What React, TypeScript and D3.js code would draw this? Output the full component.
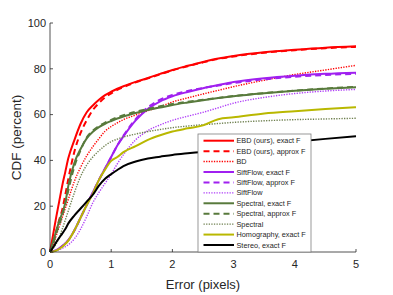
import React from "react";
import * as d3 from "d3";

const xs = [0, 0.05, 0.1, 0.15, 0.2, 0.25, 0.3, 0.4, 0.5, 0.6, 0.7, 0.8, 0.9, 1.0, 1.1, 1.2, 1.4, 1.6, 1.8, 2.0, 2.25, 2.5, 2.75, 3.0, 3.5, 4.0, 4.5, 5.0];

const ebdExact = [0, 7.5, 15, 22, 29, 35, 41, 49, 56, 61, 64, 66.5, 68.5, 70, 71.3, 72.4, 74.3, 76, 77.8, 79.5, 81.3, 83, 84.5, 85.6, 87.2, 88.3, 89.2, 89.8];
const ebdApprox = [0, 4, 9, 14, 18.5, 25, 32, 44, 52, 57.5, 62, 65, 67.5, 69.3, 70.8, 72, 74.1, 75.8, 77.6, 79.3, 81.1, 82.8, 84.3, 85.4, 87, 88.1, 89, 89.6];
const bd = [0, 3, 7, 11, 15, 19, 23, 31, 37, 42, 46, 49.5, 52.8, 54.8, 56.4, 57.8, 59.8, 61.7, 63.5, 65.5, 67.3, 69, 70.6, 72.2, 75, 77.5, 79.5, 81.5];
const siftExact = [0, 0.3, 0.8, 1.6, 2.6, 3.8, 5.2, 9.5, 15, 20.5, 26, 31.5, 36.5, 41.5, 46.5, 50.5, 57.5, 62.5, 65.8, 68, 69.9, 71.5, 72.9, 74.2, 75.9, 77, 77.8, 78.3];
const siftApprox = [0, 0.3, 0.8, 1.6, 2.6, 3.8, 5.2, 9.5, 15, 20.5, 26, 31.5, 36.5, 41.5, 46.5, 50.8, 58, 63.2, 66.5, 68.6, 70.3, 71.6, 72.7, 73.8, 75.4, 76.5, 77.3, 77.8];
const sift = [0, 0.2, 0.5, 1, 1.6, 2.3, 3.2, 5.8, 10, 15.5, 21.5, 26, 30, 34, 38.5, 42.5, 49, 53, 55.5, 57.5, 59.3, 61, 63, 65, 67.5, 69.2, 70.3, 71];
const specExact = [0, 4.5, 9, 13.5, 17, 21.5, 29, 39, 45, 49.6, 52.5, 54.5, 56, 57.2, 58.3, 59.2, 60.7, 62, 63.1, 64.2, 65.3, 66.3, 67.2, 68, 69.3, 70.4, 71.3, 72];
const specApprox = [0, 3.5, 8, 12, 16, 21, 27, 37.5, 44.5, 50, 53, 55, 56.5, 57.7, 58.8, 59.7, 61.2, 62.5, 63.6, 64.6, 65.6, 66.5, 67.3, 68.1, 69.4, 70.5, 71.4, 72.1];
const spec = [0, 1.5, 3.5, 6.5, 10, 14, 18, 26, 33, 38, 41.5, 44.2, 46.5, 48.2, 49.3, 50.2, 51.5, 52.6, 53.5, 54.3, 55, 55.6, 56.1, 56.6, 57.3, 57.8, 58.1, 58.4];
const homog = [0, 0.2, 0.6, 1.3, 2.3, 3.5, 5, 9.5, 15, 20.5, 25.5, 31.5, 36, 39.8, 41.5, 43.6, 46.2, 49, 51, 52.6, 54, 55.3, 58, 58.8, 60.5, 61.5, 62.4, 63.2];
const stereo = [0, 2, 4.2, 6.2, 8, 10, 12.5, 16, 19, 22, 25, 29, 32, 34, 35.8, 37.5, 39.5, 40.8, 41.6, 42.4, 43.1, 43.7, 44.4, 45.1, 46.6, 48.1, 49.4, 50.6];

const seriesNames = [
  "EBD (ours), exact F",
  "EBD (ours), approx F",
  "BD",
  "SiftFlow, exact F",
  "SiftFlow, approx F",
  "SiftFlow",
  "Spectral, exact F",
  "Spectral, approx F",
  "Spectral",
  "Homography, exact F",
  "Stereo, exact F",
];
const seriesValues = [ebdExact, ebdApprox, bd, siftExact, siftApprox, sift, specExact, specApprox, spec, homog, stereo];
const seriesColors = ["#ff0000", "#ff0000", "#ff0000", "#a020f0", "#a020f0", "#b040f8", "#587a3c", "#587a3c", "#6f8050", "#b9b800", "#000000"];
const seriesStyles = ["solid", "dashed", "dotted", "solid", "dashed", "dotted", "solid", "dashed", "dotted", "solid", "solid"];

const xTicks = [0, 1, 2, 3, 4, 5];
const yTicks = [0, 20, 40, 60, 80, 100];

const W = 393;
const H = 295;
const M = { left: 50, right: 37, top: 23, bottom: 43 };

export default function App() {
  const x = d3.scaleLinear().domain([0, 5]).range([M.left, W - M.right]);
  const y = d3.scaleLinear().domain([0, 100]).range([H - M.bottom, M.top]);
  const line = d3
    .line<[number, number]>()
    .x((d) => x(d[0]))
    .y((d) => y(d[1]))
    .curve(d3.curveMonotoneX);

  const dashFor = (s: string) => (s === "dashed" ? "6,4" : s === "dotted" ? "1.3,1.3" : undefined);
  const widthFor = (s: string) => (s === "dotted" ? 1.4 : 2);

  const axisColor = "#262626";
  const font = "Liberation Sans, Arial, Helvetica, sans-serif";

  const legX = 198;
  const legY = 134;
  const legW = 113;
  const legH = 118;
  const rowH = 10.43;

  return (
    <svg
      width={W}
      height={H}
      style={{ position: "absolute", left: 0, top: 0, background: "#fff" }}
      fontFamily={font}
    >
      <rect x={0} y={0} width={W} height={H} fill="#fff" />
      {seriesValues.map((vals, i) => (
        <path
          key={i}
          d={line(xs.map((xv, j) => [xv, vals[j]] as [number, number])) || ""}
          fill="none"
          stroke={seriesColors[i]}
          strokeWidth={widthFor(seriesStyles[i])}
          strokeDasharray={dashFor(seriesStyles[i])}
        />
      ))}
      {/* axes */}
      <line x1={x(0)} x2={x(0)} y1={y(0)} y2={y(100)} stroke={axisColor} strokeWidth={0.8} />
      <line x1={x(0)} x2={x(5)} y1={y(0)} y2={y(0)} stroke={axisColor} strokeWidth={0.8} />
      {yTicks.map((t) => (
        <g key={"y" + t}>
          <line x1={x(0)} x2={x(0) + 3} y1={y(t)} y2={y(t)} stroke={axisColor} strokeWidth={0.8} />
          <text x={x(0) - 4} y={y(t)} dy="0.35em" textAnchor="end" fontSize={11} fill={axisColor}>
            {t}
          </text>
        </g>
      ))}
      {xTicks.map((t) => (
        <g key={"x" + t}>
          <line x1={x(t)} x2={x(t)} y1={y(0)} y2={y(0) - 3} stroke={axisColor} strokeWidth={0.8} />
          <text x={x(t)} y={y(0) + 16} textAnchor="middle" fontSize={11} fill={axisColor}>
            {t}
          </text>
        </g>
      ))}
      <text x={(x(0) + x(5)) / 2} y={289} textAnchor="middle" fontSize={13} fill={axisColor}>
        Error (pixels)
      </text>
      <text
        transform={`translate(21, ${(y(0) + y(100)) / 2}) rotate(-90)`}
        textAnchor="middle"
        fontSize={13.5}
        fill={axisColor}
      >
        CDF (percent)
      </text>
      {/* legend */}
      <rect x={legX} y={legY} width={legW} height={legH} fill="#fff" stroke="#7f7f7f" strokeWidth={0.8} />
      {seriesNames.map((name, i) => {
        const cy = legY + 6.7 + i * rowH;
        return (
          <g key={"l" + i}>
            <line
              x1={legX + 5.5}
              x2={legX + 36}
              y1={cy}
              y2={cy}
              stroke={seriesColors[i]}
              strokeWidth={widthFor(seriesStyles[i])}
              strokeDasharray={dashFor(seriesStyles[i])}
            />
            <text x={legX + 38.5} y={cy} dy="0.35em" fontSize={7.3} fill={axisColor}>
              {name}
            </text>
          </g>
        );
      })}
    </svg>
  );
}
